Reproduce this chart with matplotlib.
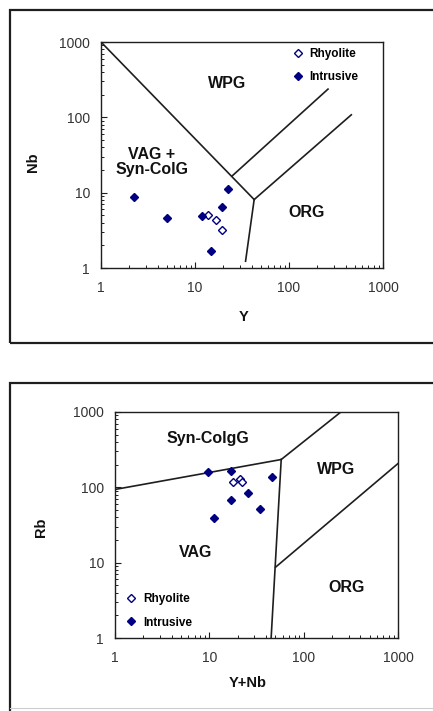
import matplotlib
matplotlib.use('Agg')
import matplotlib.pyplot as plt
from matplotlib.patches import Rectangle
from matplotlib.lines import Line2D
from matplotlib.ticker import FixedLocator, LogLocator, NullFormatter

plt.rcParams['font.family'] = ['Liberation Sans', 'DejaVu Sans']

# --- Nb vs Y ---
rhy_y = [13.8, 16.7, 19.3]
rhy_nb = [5.1, 4.3, 3.15]
int_y = [2.24, 5.0, 12.0, 14.8, 19.3, 22.5]
int_nb = [8.8, 4.55, 4.9, 1.68, 6.4, 11.2]

# field boundaries (x pairs, y pairs)
nby_bounds = [
    ([1, 42.6], [1000, 8.1]),
    ([42.6, 34.5], [8.1, 1.23]),
    ([42.6, 460], [8.1, 108]),
    ([25, 260], [16.8, 237]),
]
nby_fields = [('WPG', 21.8, 279), ('VAG +\nSyn-ColG', 3.48, 25.6), ('ORG', 154, 5.5)]

# --- Rb vs Y+Nb ---
rhy_ynb = [17.9, 21.1, 22.3]
rhy_rb = [119, 129, 119]
int_ynb = [9.7, 16.9, 45.7, 25.8, 16.9, 34.4, 11.3]
int_rb = [161, 164, 136, 84, 68, 51, 39.6]

rb_bounds = [
    ([1, 57.8], [93.7, 234]),
    ([57.8, 248], [234, 1000]),
    ([57.8, 45.2], [234, 1]),
    ([50.3, 1000], [8.7, 207]),
]
rb_fields = [('Syn-ColgG', 9.67, 450), ('WPG', 219, 175), ('VAG', 7.21, 13.6), ('ORG', 287, 4.63)]

ticks = [1, 10, 100, 1000]
navy = '#000080'
ink = '#1e1e1e'

fig = plt.figure(figsize=(4.33, 7.11), dpi=100)

# panel frames
fig.add_artist(Rectangle((10/433, 1-343/711), 1.0, 333/711, transform=fig.transFigure,
                         fill=False, lw=1.6, ec=ink))
fig.add_artist(Rectangle((10/433, -0.05), 1.0, 0.05 + 1-383/711, transform=fig.transFigure,
                         fill=False, lw=1.6, ec=ink))
fig.add_artist(Line2D([10/433, 1], [0.004, 0.004], transform=fig.transFigure, lw=0.8, color='#cccccc'))


def setup(ax):
    ax.set_xscale('log')
    ax.set_yscale('log')
    ax.set_xlim(1, 1000)
    ax.set_ylim(1, 1000)
    ax.xaxis.set_major_locator(FixedLocator(ticks))
    ax.yaxis.set_major_locator(FixedLocator(ticks))
    ax.set_xticklabels([str(t) for t in ticks])
    ax.set_yticklabels([str(t) for t in ticks])
    for axis in (ax.xaxis, ax.yaxis):
        axis.set_minor_locator(LogLocator(base=10, subs=range(2, 10)))
        axis.set_minor_formatter(NullFormatter())
    ax.tick_params(which='both', direction='in', colors=ink, labelcolor='#333333', labelsize=10)
    ax.tick_params(which='major', length=4, width=0.8)
    ax.tick_params(which='minor', length=2.5, width=0.7)
    ax.tick_params(axis='x', pad=9)
    ax.tick_params(axis='y', pad=8)
    for s in ax.spines.values():
        s.set_color(ink)
        s.set_linewidth(1.0)


def draw(ax, bounds, fields, rx, ry, ix, iy):
    for xs, ys in bounds:
        ax.plot(xs, ys, color=ink, lw=1.2)
    for label, x, y in fields:
        ax.text(x, y, label, ha='center', va='center', fontsize=11.5, fontweight='bold',
                color='#111111', linespacing=1.05)
    ax.plot(rx, ry, 'D', ms=4.3, mfc='white', mec=navy, mew=1.0, ls='none', label='Rhyolite')
    ax.plot(ix, iy, 'D', ms=4.5, mfc=navy, mec=navy, ls='none', label='Intrusive')


ax1 = fig.add_axes([101/433, 1-268/711, 282/433, 226/711])
setup(ax1)
draw(ax1, nby_bounds, nby_fields, rhy_y, rhy_nb, int_y, int_nb)
ax1.set_xlabel('Y', fontsize=10.5, fontweight='bold')
ax1.set_ylabel('Nb', fontsize=10.5, fontweight='bold')
ax1.xaxis.set_label_coords(0.504, -0.217)
ax1.yaxis.set_label_coords(-0.241, 0.469)
ax1.legend(loc='upper left', bbox_to_anchor=(0.677, 0.975), frameon=False,
           prop={'weight': 'bold', 'size': 8.5}, handlelength=1.0, handletextpad=0.5,
           labelspacing=1.0, borderpad=0, borderaxespad=0)

ax2 = fig.add_axes([115/433, 1-638/711, 283/433, 226/711])
setup(ax2)
draw(ax2, rb_bounds, rb_fields, rhy_ynb, rhy_rb, int_ynb, int_rb)
ax2.set_xlabel('Y+Nb', fontsize=10.5, fontweight='bold')
ax2.set_ylabel('Rb', fontsize=10.5, fontweight='bold')
ax2.xaxis.set_label_coords(0.47, -0.198)
ax2.yaxis.set_label_coords(-0.261, 0.492)
ax2.legend(loc='upper left', bbox_to_anchor=(0.037, 0.2), frameon=False,
           prop={'weight': 'bold', 'size': 8.5}, handlelength=1.0, handletextpad=0.5,
           labelspacing=1.0, borderpad=0, borderaxespad=0)

for ax in (ax1, ax2):
    ax.xaxis.label.set_va('center')
    ax.yaxis.label.set_va('center')
    ax.xaxis.label.set_color('#111111')
    ax.yaxis.label.set_color('#111111')

fig.savefig('out.png', dpi=100)
